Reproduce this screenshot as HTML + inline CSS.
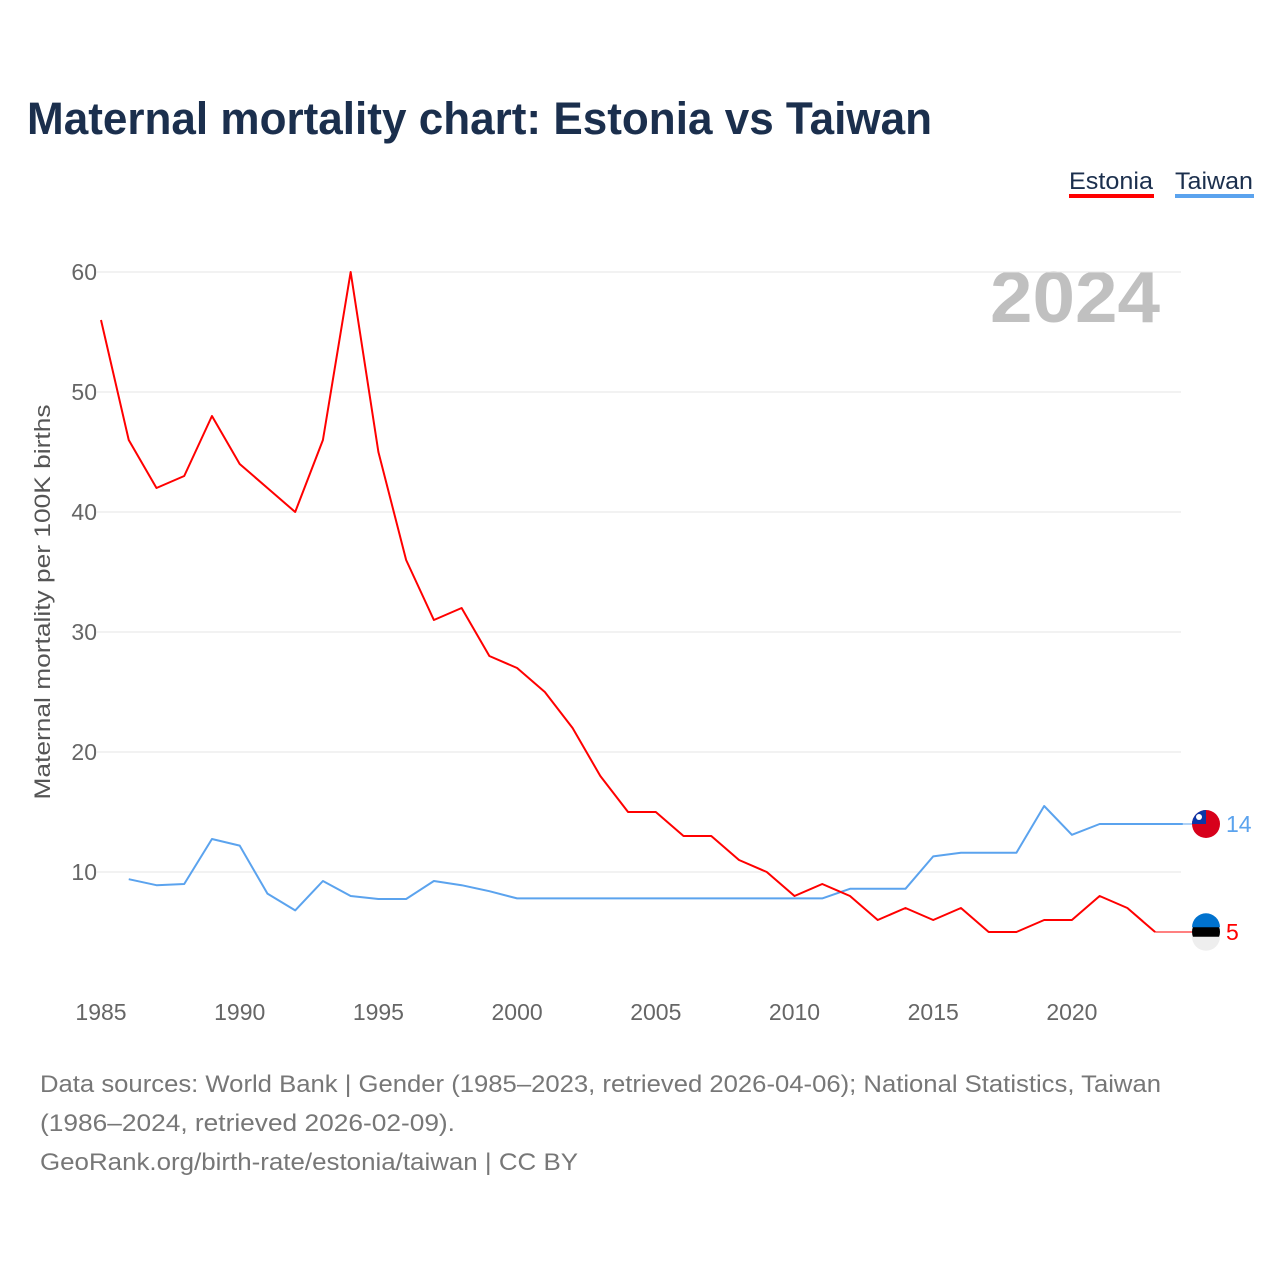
<!DOCTYPE html>
<html><head><meta charset="utf-8"><style>
body{margin:0;background:#fff;font-family:"Liberation Sans",sans-serif}
</style></head><body>
<svg width="1280" height="1280" xmlns="http://www.w3.org/2000/svg">
<text x="27" y="134" font-size="45" font-weight="bold" fill="#1b2f4d" textLength="905" lengthAdjust="spacingAndGlyphs">Maternal mortality chart: Estonia vs Taiwan</text>
<g><text x="1069" y="189" font-size="24" fill="#1b2f4d" textLength="84" lengthAdjust="spacingAndGlyphs">Estonia</text><rect x="1069" y="194" width="85" height="4" fill="#f00"/></g>
<g><text x="1175" y="189" font-size="24" fill="#1b2f4d" textLength="78" lengthAdjust="spacingAndGlyphs">Taiwan</text><rect x="1175" y="194" width="79" height="4" fill="#5ba3ee"/></g>
<text x="1160" y="322" font-size="72" font-weight="bold" fill="#c0c0c0" text-anchor="end" textLength="170" lengthAdjust="spacingAndGlyphs">2024</text>
<text transform="translate(50,602) rotate(-90)" font-size="22" fill="#555" text-anchor="middle" textLength="395" lengthAdjust="spacingAndGlyphs">Maternal mortality per 100K births</text>
<g id="grid"></g><g id="xt"></g><g id="lines"></g>
<text x="40" y="1092" font-size="24" fill="#777" textLength="1121" lengthAdjust="spacingAndGlyphs">Data sources: World Bank | Gender (1985–2023, retrieved 2026-04-06); National Statistics, Taiwan</text>
<text x="40" y="1131" font-size="24" fill="#777" textLength="415" lengthAdjust="spacingAndGlyphs">(1986–2024, retrieved 2026-02-09).</text>
<text x="40" y="1170" font-size="24" fill="#777" textLength="538" lengthAdjust="spacingAndGlyphs">GeoRank.org/birth-rate/estonia/taiwan | CC BY</text>
</svg>
<script>
const yTicks=[10,20,30,40,50,60];
const xTicks=[1985,1990,1995,2000,2005,2010,2015,2020];
const estYears=[1985,1986,1987,1988,1989,1990,1991,1992,1993,1994,1995,1996,1997,1998,1999,2000,2001,2002,2003,2004,2005,2006,2007,2008,2009,2010,2011,2012,2013,2014,2015,2016,2017,2018,2019,2020,2021,2022,2023];
const estVals=[56,46,42,43,48,44,42,40,46,60,45,36,31,32,28,27,25,22,18,15,15,13,13,11,10,8,9,8,6,7,6,7,5,5,6,6,8,7,5];
const twYears=[1986,1987,1988,1989,1990,1991,1992,1993,1994,1995,1996,1997,1998,1999,2000,2001,2002,2003,2004,2005,2006,2007,2008,2009,2010,2011,2012,2013,2014,2015,2016,2017,2018,2019,2020,2021,2022,2023,2024];
const twVals=[9.4,8.9,9.0,12.75,12.2,8.2,6.8,9.25,8.0,7.75,7.75,9.25,8.9,8.4,7.8,7.8,7.8,7.8,7.8,7.8,7.8,7.8,7.8,7.8,7.8,7.8,8.6,8.6,8.6,11.3,11.6,11.6,11.6,15.5,13.1,14,14,14,14];
const NS="http://www.w3.org/2000/svg";
const X=y=>101+(y-1985)*27.74, Y=v=>992-v*12;
function mk(t,a,p){const e=document.createElementNS(NS,t);for(const k in a)e.setAttribute(k,a[k]);p.appendChild(e);return e;}
const g=document.getElementById('grid');
yTicks.forEach(v=>{
 const l=mk('line',{x1:97,x2:1181,y1:Y(v),y2:Y(v),stroke:'#e6e6e6','stroke-width':1},g);
 
 
 const t=mk('text',{x:97,y:Y(v)+8,'font-size':23,fill:'#666','text-anchor':'end'},g);t.textContent=v;
 
 
});
const xt=document.getElementById('xt');
xTicks.forEach(v=>{
 const t=mk('text',{x:X(v),y:1020,'font-size':23,fill:'#666','text-anchor':'middle'},xt);t.textContent=v;
 
 
});
const L=document.getElementById('lines');
function series(ys,vs,col,name){
 const p=mk('polyline',{points:ys.map((y,i)=>X(y)+','+Y(vs[i])).join(' '),fill:'none',stroke:col,'stroke-width':2,'stroke-linejoin':'round'},L);
 
 
 const lv=vs[vs.length-1],lx=X(ys[ys.length-1]);
 const c=mk('line',{x1:lx,x2:1192,y1:Y(lv),y2:Y(lv),stroke:col,'stroke-width':1},L);
 
 
 const f=mk('circle',{cx:1206,cy:Y(lv),r:14,fill:name==='estonia'?'#000':'#d7001b'},L);
 
 
 if(name==='estonia'){mk('path',{d:`M1192 ${Y(lv)-4.7} A14 14 0 0 1 1220 ${Y(lv)-4.7}Z`,fill:'#0072ce'},L);mk('path',{d:`M1192 ${Y(lv)+4.7} A14 14 0 0 0 1220 ${Y(lv)+4.7}Z`,fill:'#eee'},L);}
 else{mk('path',{d:`M1192 ${Y(lv)} A14 14 0 0 1 1206 ${Y(lv)-14}V${Y(lv)}Z`,fill:'#0a36a8'},L);mk('circle',{cx:1199,cy:Y(lv)-7,r:3,fill:'#fff'},L);}
 const t=mk('text',{x:1226,y:Y(lv)+8,'font-size':23,fill:col},L);t.textContent=Math.round(lv);
 
 
}
series(twYears,twVals,'#5ba3ee','taiwan');
series(estYears,estVals,'#f00','estonia');
</script>
</body></html>
